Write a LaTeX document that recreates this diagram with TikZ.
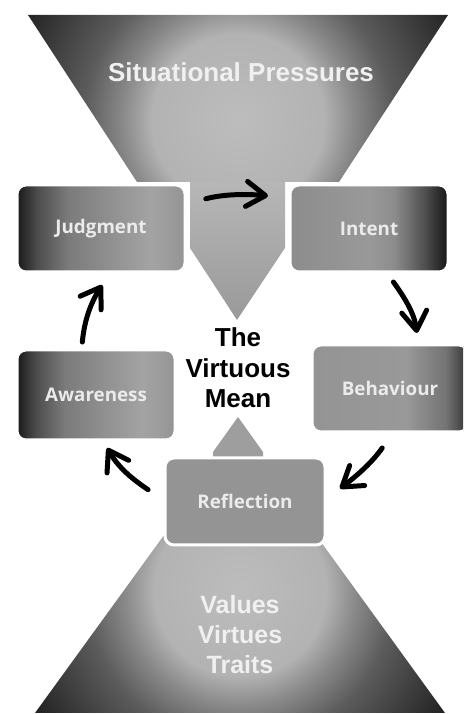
\documentclass[tikz,border=0pt]{standalone}
\usepackage{fontspec}
\usepackage{tikz}
\usetikzlibrary{arrows.meta}

\newfontfamily\headfont{Liberation Sans}
\newfontfamily\boxfont{Open Sans}

\pgfdeclareradialshading{funnelglow}{\pgfpoint{0bp}{0bp}}{color(0bp)=(black!26); color(9bp)=(black!30); color(12bp)=(black!46); color(16bp)=(black!64); color(24.5bp)=(black!86); color(50bp)=(black!86)}
\pgfdeclarehorizontalshading{darkleft}{100bp}{color(0bp)=(black!90); color(25bp)=(black!90); color(31bp)=(black!70); color(40bp)=(black!52); color(55bp)=(black!42); color(65bp)=(black!36); color(75bp)=(black!42); color(100bp)=(black!42)}
\pgfdeclarehorizontalshading{darkright}{100bp}{color(0bp)=(black!45); color(25bp)=(black!45); color(50bp)=(black!40); color(58bp)=(black!45); color(68bp)=(black!70); color(75bp)=(black!92); color(100bp)=(black!92)}
\pgfdeclarehorizontalshading{softright}{100bp}{color(0bp)=(black!42); color(25bp)=(black!42); color(55bp)=(black!40); color(68bp)=(black!55); color(75bp)=(black!80); color(100bp)=(black!80)}

\begin{document}
\begin{tikzpicture}[x=1pt,y=1pt,
   stage/.style={draw=white,line width=3pt,rounded corners=9pt,minimum height=87pt,
      text=white!92!black,font=\boxfont\bfseries\fontsize{18.8}{22}\selectfont},
   bigword/.style={font=\headfont\bfseries\fontsize{26}{30.5}\selectfont,align=center,inner sep=0pt},
   flow/.style={-{Straight Barb[length=19pt,width=25pt,round]},line width=5pt,line cap=round,black}]
\clip (0,0) rectangle (463,714);
\shade[top color=black!28,bottom color=black!40] (190,535) -- (285,535) -- (285,466) -- (237,394) -- (190,466) -- cycle;
\begin{scope}
\clip (28,699) -- (448,699) -- (339,532) -- (137,532) -- cycle;
\shade[shading=funnelglow] (238,594) circle (240);
\end{scope}
\fill[black!38] (213,184) -- (213,262) -- (238,297) -- (263,262) -- (263,184) -- cycle;
\begin{scope}
\clip (35,1) -- (445,1) -- (305,194) -- (175,194) -- cycle;
\shade[shading=funnelglow] (240,124) circle (240);
\end{scope}
\node[bigword,text=white!94!black,anchor=base] (press) at (241,632) {Situational Pressures};
\node[bigword,text=white!94!black,font=\headfont\bfseries\fontsize{25}{30}\selectfont] (vals) at (240,79) {Values\\Virtues\\Traits};
\node[bigword,text=black] (mean) at (238,346) {The\\Virtuous\\Mean};
\node[stage,shade,shading=darkleft,minimum width=168pt] (judg) at (101,485.5) {Judgment};
\node[stage,shade,shading=darkright,minimum width=158pt] (intent) at (369,485.5) {Intent};
\node[stage,shade,shading=darkleft,minimum width=158pt,minimum height=90pt] (aware) at (96,319) {Awareness};
\node[stage,shade,shading=softright,minimum width=156pt] (behav) at (390,325.5) {Behaviour};
\node[stage,fill=black!42,minimum width=160pt] (refl) at (245,212.5) {Reflection};
\draw[flow,shorten <=20pt,shorten >=20.6pt] (judg.16) to[out=15,in=175] (intent.159);
\draw[flow,shorten <=10.5pt,shorten >=10.6pt] (intent.-68) to[out=-54,in=97] (behav.58);
\draw[flow,shorten <=17.7pt,shorten >=16.9pt] (behav.-87) to[out=-125,in=37] (refl.2);
\draw[flow,shorten <=18.6pt,shorten >=7.5pt] (refl.179) to[out=146,in=-60] (aware.-81);
\draw[flow,shorten <=6.5pt,shorten >=13.7pt] (aware.107) to[out=85,in=-123] (judg.-79);
\end{tikzpicture}
\end{document}
